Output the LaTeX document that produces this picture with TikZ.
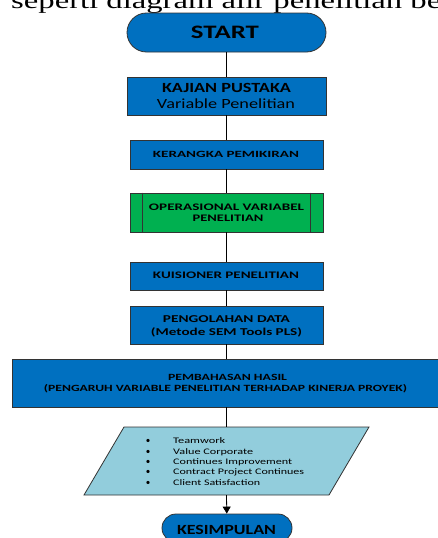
\documentclass[tikz,border=0pt]{standalone}
\usepackage{fontspec}
\setmainfont{Carlito}
\newfontfamily\bodyserif{Liberation Serif}
\usetikzlibrary{arrows.meta}
\definecolor{procblue}{RGB}{0,112,192}
\definecolor{procgreen}{RGB}{0,176,80}
\definecolor{iofill}{RGB}{146,205,220}
% stretch a line of text to a given width (pt), keeping its height
\newcommand{\fitw}[2]{\resizebox{#1pt}{\height}{#2}}
\newcommand{\fsz}[1]{\fontsize{#1}{#1}\selectfont}

\begin{document}
\begin{tikzpicture}[x=1pt,y=-1pt,
  termbox/.style={draw=black!80, line width=0.8pt, fill=procblue, rounded corners=#1, inner sep=0pt},
  procbox/.style={draw=black!80, line width=0.8pt, fill=procblue, inner sep=0pt},
  subbox/.style={draw=black!80, line width=0.8pt, fill=procgreen, inner sep=0pt},
  lbl/.style={anchor=base, inner sep=0pt, text=black},
  itemlbl/.style={anchor=base west, inner sep=0pt, text=black},
  link/.style={draw=black, line width=0.8pt},
]
\useasboundingbox (0,0) rectangle (438,538);
\clip (0,0) rectangle (438,538);

% running text of the page above the chart
\node[anchor=base west, inner sep=0pt] (lead) at (11,9)
  {\resizebox{430pt}{\height}{\bodyserif\fsz{23}seperti diagram alir penelitian be}};

% start terminator
\node[termbox=19.5pt, minimum width=199pt, minimum height=39pt] (start) at (226.5,32.5) {};
\node[lbl] (startlbl) at (225,38.3) {\fitw{68}{\fsz{19}\bfseries START}};

% literature review
\node[procbox, minimum width=199pt, minimum height=38pt] (kajian) at (226.5,96) {};
\node[lbl] (kajian1) at (226.5,92.3) {\fitw{129}{\fsz{14}\bfseries KAJIAN PUSTAKA}};
\node[lbl] (kajian2) at (226,108.5) {\fitw{138}{\fsz{14}Variable Penelitian}};

% framework
\node[procbox, minimum width=193pt, minimum height=29pt] (kerangka) at (226.5,154.5) {};
\node[lbl] (kerangkalbl) at (226,157.7) {\fitw{146}{\fsz{9.5}\bfseries KERANGKA PEMIKIRAN}};

% operational variables (predefined process)
\node[subbox, minimum width=193pt, minimum height=39pt] (oper) at (226.5,212.5) {};
\draw[draw=black!80, line width=0.8pt] ([xshift=13pt]oper.north west) -- ([xshift=13pt]oper.south west);
\draw[draw=black!80, line width=0.8pt] ([xshift=-13pt]oper.north east) -- ([xshift=-13pt]oper.south east);
\node[lbl] (oper1) at (226.5,210) {\fitw{155}{\fsz{10}\bfseries OPERASIONAL VARIABEL}};
\node[lbl] (oper2) at (228,221.7) {\fitw{70.6}{\fsz{10}\bfseries PENELITIAN}};

% questionnaire
\node[procbox, minimum width=193pt, minimum height=28pt] (kuis) at (226.5,276) {};
\node[lbl] (kuislbl) at (226,278.7) {\fitw{146}{\fsz{10}\bfseries KUISIONER PENELITIAN}};

% data processing
\node[procbox, minimum width=193pt, minimum height=38pt] (olah) at (226.5,325) {};
\node[lbl] (olah1) at (226.5,322.3) {\fitw{127}{\fsz{10.5}\bfseries PENGOLAHAN DATA}};
\node[lbl] (olah2) at (226.5,335) {\fitw{151}{\fsz{10.5}\bfseries (Metode SEM Tools PLS)}};

% discussion of results
\node[procbox, minimum width=429pt, minimum height=48pt] (bahas) at (226.5,383) {};
\node[lbl] (bahas1) at (227.5,380) {\fitw{119}{\fsz{9.5}\bfseries PEMBAHASAN HASIL}};
\node[lbl] (bahas2) at (225.5,391) {\fitw{363}{\fsz{9.5}\bfseries (PENGARUH VARIABLE PENELITIAN TERHADAP KINERJA PROYEK)}};

% data parallelogram with the variables
\draw[draw=black!80, line width=0.8pt, fill=iofill]
  (124,427) -- (369,427) -- (329,495) -- (84,495) -- cycle;
\coordinate (datatop) at (226.5,427);
\coordinate (databot) at (226.5,495);
\foreach \y/\w/\t [count=\i] in {443.3/52/Teamwork, 454/80/Value Corporate, 464.3/119/Continues Improvement, 474.7/131/Contract Project Continues, 485/87/Client Satisfaction}{
  \node[lbl] (dot\i) at (148,\y) {\fsz{9}•};
  \node[itemlbl] (item\i) at (173,\y) {\fitw{\w}{\fsz{8.5}\t}};
}

% end terminator
\node[termbox=14pt, minimum width=130pt, minimum height=28pt] (akhir) at (227,528) {};
\node[lbl] (akhirlbl) at (226.5,534) {\fitw{99}{\fsz{14}\bfseries KESIMPULAN}};

% connectors
\draw[link] (start) -- (kajian);
\draw[link] (kajian) -- (kerangka);
\draw[link] (kerangka) -- (oper);
\draw[link] (oper) -- (kuis);
\draw[link] (kuis) -- (olah);
\draw[link] (olah) -- (bahas);
\draw[link] (bahas) -- (datatop);
\draw[link, -{Triangle[length=7pt,width=8pt]}] (databot) -- (akhir);
\end{tikzpicture}
\end{document}
